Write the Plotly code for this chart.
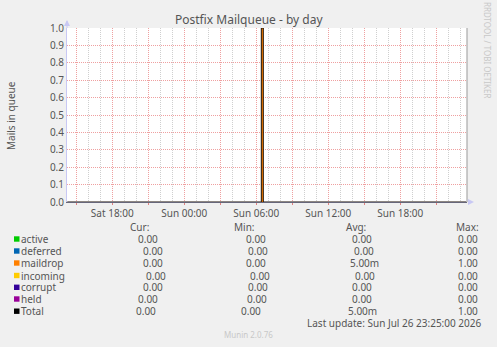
import plotly.graph_objects as go

# ---------------- data ----------------
times = ["2026-07-25 14:15:00", "2026-07-26 06:20:00", "2026-07-26 06:25:00",
         "2026-07-26 06:30:00", "2026-07-26 06:35:00", "2026-07-26 23:30:00"]
active   = [0, 0, 0, 0, 0, 0]
deferred = [0, 0, 0, 0, 0, 0]
maildrop = [0, 0, 1, 1, 0, 0]
incoming = [0, 0, 0, 0, 0, 0]
corrupt  = [0, 0, 0, 0, 0, 0]
held     = [0, 0, 0, 0, 0, 0]
total    = [0, 0, 1, 1, 0, 0]

series_names = ["active", "deferred", "maildrop", "incoming", "corrupt", "held", "Total"]
series_colors = ["#00CC00", "#0066B3", "#FF8000", "#FFCC00", "#330099", "#990099", "#000000"]
cur_vals = ["0.00", "0.00", "0.00", "0.00", "0.00", "0.00", "0.00"]
min_vals = ["0.00", "0.00", "0.00", "0.00", "0.00", "0.00", "0.00"]
avg_vals = ["0.00", "0.00", "5.00m", "0.00", "0.00", "0.00", "5.00m"]
max_vals = ["0.00", "0.00", "1.00", "0.00", "0.00", "0.00", "1.00"]

major_ticks = ["2026-07-25 15:00", "2026-07-25 18:00", "2026-07-25 21:00", "2026-07-26 00:00",
               "2026-07-26 03:00", "2026-07-26 06:00", "2026-07-26 09:00", "2026-07-26 12:00",
               "2026-07-26 15:00", "2026-07-26 18:00", "2026-07-26 21:00"]
major_labels = ["", "Sat 18:00", "", "Sun 00:00", "", "Sun 06:00", "", "Sun 12:00", "",
                "Sun 18:00", ""]

title_text = "Postfix Mailqueue - by day"
y_title = "Mails in queue"
last_update = "Last update: Sun Jul 26 23:25:00 2026"
version_text = "Munin 2.0.76"
watermark = "RRDTOOL / TOBI OETIKER"

# ---------------- layout geometry ----------------
W, H = 497, 347
L, R, T, B = 67, 467, 28, 202
FONT = "Noto Sans"
TXT = "#555555"

def px(x):
    return (x - L) / (R - L)

def py(y):
    return (B - y) / (B - T)

fig = go.Figure()
series_data = [active, deferred, maildrop, incoming, corrupt, held]
for name, col, vals in zip(series_names[:6], series_colors[:6], series_data):
    fig.add_trace(go.Scatter(x=times, y=vals, name=name, mode="lines",
                             line=dict(width=0, color=col, shape="hv"),
                             fillcolor=col, stackgroup="one", showlegend=False))
fig.add_trace(go.Scatter(x=times, y=total, name="Total", mode="lines",
                         line=dict(width=1, color="#1A0F05", shape="hv"), showlegend=False))

fig.update_layout(
    width=W, height=H,
    margin=dict(l=L, r=W - R, t=T, b=H - B),
    paper_bgcolor="#F0F0F0", plot_bgcolor="#FFFFFF",
    font=dict(family=FONT, size=10, color=TXT),
    showlegend=False,
)
fig.update_xaxes(
    type="date", range=["2026-07-25 14:13:30", "2026-07-26 23:33:30"],
    tickmode="array", tickvals=major_ticks, ticktext=major_labels,
    showgrid=True, gridcolor="#EFA0A0", griddash="1px,1px", gridwidth=1,
    ticks="outside", ticklen=2, tickcolor="#E08080",
    minor=dict(dtick=3600000, tick0="2026-07-25 15:00", showgrid=True,
               gridcolor="#CFCFCF", griddash="1px,1px", ticks=""),
    showline=True, linecolor="#66667A", linewidth=1,
    tickfont=dict(size=10, color=TXT), zeroline=False, fixedrange=True,
)
fig.update_yaxes(
    range=[0, 1], dtick=0.1, tickformat=".1f",
    showgrid=True, gridcolor="#EFA0A0", griddash="1px,1px", gridwidth=1,
    ticks="", showline=True, linecolor="#C8C8F4", linewidth=1,
    tickfont=dict(size=10, color=TXT), zeroline=False, fixedrange=True,
)

shapes = []
# right border
shapes.append(dict(type="line", xref="paper", yref="paper", x0=1, x1=1, y0=0, y1=1,
                   line=dict(color="#999999", width=1)))
# axis arrows
shapes.append(dict(type="line", xref="paper", yref="paper", x0=0, x1=0, y0=1, y1=py(21),
                   line=dict(color="#C8C8F4", width=1)))
shapes.append(dict(type="path", xref="paper", yref="paper",
                   path=f"M {px(64)} {py(26)} L {px(70)} {py(26)} L {px(67)} {py(20)} Z",
                   fillcolor="#C8C8F4", line=dict(width=0)))
shapes.append(dict(type="path", xref="paper", yref="paper",
                   path=f"M {px(468)} {py(199)} L {px(468)} {py(205)} L {px(474)} {py(202)} Z",
                   fillcolor="#C8C8F4", line=dict(width=0)))

ann = []
ann.append(dict(text=title_text, x=px(249), y=py(19), xref="paper", yref="paper",
                showarrow=False, font=dict(size=12, color=TXT), xanchor="center", yanchor="middle"))
ann.append(dict(text=y_title, x=px(11), y=py(115), xref="paper", yref="paper", textangle=-90,
                showarrow=False, font=dict(size=10, color=TXT), xanchor="center", yanchor="middle"))
ann.append(dict(text=watermark, x=px(487), y=py(50), xref="paper", yref="paper", textangle=90,
                showarrow=False, font=dict(size=8, color="#C8C8C8"), xanchor="center", yanchor="middle"))

# legend headers
for lbl, xc in [("Cur:", 139), ("Min:", 244), ("Avg:", 356), ("Max:", 467)]:
    ann.append(dict(text=lbl, x=px(xc), y=py(227), xref="paper", yref="paper", showarrow=False,
                    font=dict(size=10, color=TXT), xanchor="center", yanchor="middle",
                    borderpad=0))

row_y = [239, 251, 263, 275.5, 287.3, 299, 311.2]
cur_x = [148, 153, 153, 155.5, 152.5, 148, 145.5]
min_x = [255.5, 257.5, 256, 259.5, 257.5, 256.5, 250.5]
avg_x = [362, 363.5, 364.5, 364.5, 362, 362, 362]
max_x = [468.5] * 7

for i, name in enumerate(series_names):
    yy = row_y[i]
    shapes.append(dict(type="rect", xref="paper", yref="paper",
                       x0=px(14), x1=px(19.5), y0=py(yy + 2.7), y1=py(yy - 2.7),
                       fillcolor=series_colors[i], line=dict(width=0)))
    ann.append(dict(text=name, x=px(19.8), y=py(yy), xref="paper", yref="paper", showarrow=False,
                    font=dict(size=10, color=TXT), xanchor="left", yanchor="middle",
                    borderpad=0))
    for vals, xs in [(cur_vals, cur_x), (min_vals, min_x), (avg_vals, avg_x), (max_vals, max_x)]:
        ann.append(dict(text=vals[i], x=px(xs[i]), y=py(yy), xref="paper", yref="paper",
                        showarrow=False, font=dict(size=10, color=TXT),
                        xanchor="center", yanchor="middle", borderpad=0))

ann.append(dict(text=last_update, x=px(482), y=py(323), xref="paper", yref="paper", showarrow=False,
                font=dict(size=10, color=TXT), xanchor="right", yanchor="middle", borderpad=0))
ann.append(dict(text=version_text, x=px(248.5), y=py(334), xref="paper", yref="paper", showarrow=False,
                font=dict(size=8, color="#C8C8C8"), xanchor="center", yanchor="middle"))

fig.update_layout(shapes=shapes, annotations=ann)
fig.write_html("out.html")
